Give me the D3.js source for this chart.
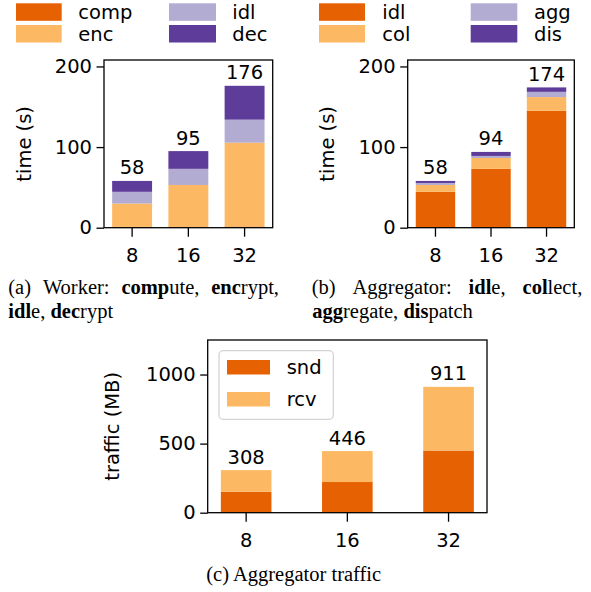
<!DOCTYPE html>
<html>
<head>
<meta charset="utf-8">
<script src="https://cdn.jsdelivr.net/npm/d3@7"></script>
<style>
  body { margin: 0; background: #fff; }
  svg { display: block; }
</style>
</head>
<body>
<div id="chart"></div>
<script>
// Données
const nodes = ["8", "16", "32"];

// (a) worker
const workerKeys = ["comp", "enc", "idl", "dec"];
const workerComp = [1, 0.5, 1.5];
const workerEnc = [29, 52.5, 104];
const workerIdl = [14.5, 20, 28.5];
const workerDec = [13.5, 22, 42];
const workerTotals = [58, 95, 176];

// (b) aggregator
const aggKeys = ["idl", "col", "agg", "dis"];
const aggIdl = [44.5, 73, 145];
const aggCol = [8.5, 13.5, 17];
const aggAgg = [2.5, 2.5, 6.5];
const aggDis = [2.5, 5, 5.5];
const aggTotals = [58, 94, 174];

// (c) traffic
const trafficKeys = ["snd", "rcv"];
const trafficSnd = [152, 222, 450];
const trafficRcv = [156, 224, 461];
const trafficTotals = [308, 446, 911];

const timeTicks = [0, 100, 200];
const trafficTicks = [0, 500, 1000];

const colors = ["#e66101", "#fdb863", "#b2abd2", "#5e3c99"];
const FONT = "DejaVu Sans";
const FS = 19.5;

const svg = d3
  .select("#chart")
  .append("svg")
  .attr("width", 591)
  .attr("height", 592);

function rows(series) {
  return nodes.map(function (n, i) {
    let r = { node: n };
    series.forEach(function (s) {
      r[s.key] = s.values[i];
    });
    return r;
  });
}

function panel(cfg) {
  let x = d3
    .scaleBand()
    .domain(nodes)
    .range([cfg.x0, cfg.x1])
    .paddingInner(cfg.pin)
    .paddingOuter(cfg.pout);
  let y = d3.scaleLinear().domain([0, cfg.ymax]).range([cfg.yBot, cfg.yTop]);

  let data = rows(cfg.series);
  let stack = d3.stack().keys(cfg.series.map((s) => s.key))(data);

  let g = svg.append("g");

  g.selectAll("g.layer")
    .data(stack)
    .enter()
    .append("g")
    .attr("fill", (d, i) => colors[i])
    .selectAll("rect")
    .data((d) => d)
    .enter()
    .append("rect")
    .attr("x", (d) => x(d.data.node))
    .attr("width", x.bandwidth())
    .attr("y", (d) => y(d[1]))
    .attr("height", (d) => y(d[0]) - y(d[1]));

  // totals above bars
  g.selectAll("text.total")
    .data(cfg.totals)
    .enter()
    .append("text")
    .attr("x", (d, i) => x(nodes[i]) + x.bandwidth() / 2)
    .attr("y", (d) => y(d) - 6.5)
    .attr("text-anchor", "middle")
    .style("font-family", FONT)
    .style("font-size", FS + "px")
    .text((d) => d);

  // axes
  let ya = g
    .append("g")
    .attr("transform", "translate(" + cfg.x0 + ",0)")
    .call(
      d3.axisLeft(y).tickValues(cfg.ticks).tickFormat(d3.format("d")).tickSize(7.5).tickPadding(4.5)
    );
  let xa = g
    .append("g")
    .attr("transform", "translate(0," + cfg.yBot + ")")
    .call(d3.axisBottom(x).tickSize(9).tickPadding(11));
  [ya, xa].forEach(function (a) {
    a.select(".domain").remove();
    a.attr("font-family", null).attr("font-size", null);
    a.selectAll("line").attr("stroke-width", 1.3);
    a.selectAll("text").style("font-family", FONT).style("font-size", FS + "px").attr("fill", "#000");
  });

  // frame
  g.append("rect")
    .attr("x", cfg.x0)
    .attr("y", cfg.yTop)
    .attr("width", cfg.x1 - cfg.x0)
    .attr("height", cfg.yBot - cfg.yTop)
    .attr("fill", "none")
    .attr("stroke", "#000")
    .attr("stroke-width", 1.3);

  // y label
  g.append("text")
    .attr("transform", "translate(" + cfg.labelX + "," + (cfg.yTop + cfg.yBot) / 2 + ") rotate(-90)")
    .attr("text-anchor", "middle")
    .style("font-family", FONT)
    .style("font-size", FS + "px")
    .text(cfg.ylabel);

  return g;
}

function legendGrid(items, cols, rowsY, h) {
  items.forEach(function (it, i) {
    let c = cols[Math.floor(i / 2)];
    let ry = rowsY[i % 2];
    svg.append("rect")
      .attr("x", c.px)
      .attr("y", ry)
      .attr("width", c.pw)
      .attr("height", h)
      .attr("fill", colors[i]);
    svg.append("text")
      .attr("x", c.tx)
      .attr("y", ry + h / 2 + 7)
      .style("font-family", FONT)
      .style("font-size", FS + "px")
      .text(it);
  });
}

// (a)
panel({
  x0: 104, x1: 272.7, yTop: 60, yBot: 227.7, ymax: 208, pin: 0.29, pout: 0.145,
  ticks: timeTicks, totals: workerTotals, ylabel: "time (s)", labelX: 31,
  series: [
    { key: "comp", values: workerComp },
    { key: "enc", values: workerEnc },
    { key: "idl", values: workerIdl },
    { key: "dec", values: workerDec },
  ],
});
legendGrid(workerKeys, [{ px: 16, pw: 45.7, tx: 78.3 }, { px: 169, pw: 47, tx: 232.3 }], [3.3, 25], 17.5);

// (b)
panel({
  x0: 407.7, x1: 574.3, yTop: 60, yBot: 227.7, ymax: 208, pin: 0.29, pout: 0.145,
  ticks: timeTicks, totals: aggTotals, ylabel: "time (s)", labelX: 334.4,
  series: [
    { key: "idl", values: aggIdl },
    { key: "col", values: aggCol },
    { key: "agg", values: aggAgg },
    { key: "dis", values: aggDis },
  ],
});
legendGrid(aggKeys, [{ px: 319, pw: 46, tx: 382.3 }, { px: 470.7, pw: 46.6, tx: 534 }], [3.3, 25], 17.5);

// (c)
panel({
  x0: 207.7, x1: 487, yTop: 340, yBot: 512.7, ymax: 1250, pin: 0.5, pout: 0.13,
  ticks: trafficTicks, totals: trafficTotals, ylabel: "traffic (MB)", labelX: 119.3,
  series: [
    { key: "snd", values: trafficSnd },
    { key: "rcv", values: trafficRcv },
  ],
});
svg.append("rect")
  .attr("x", 219).attr("y", 350.7)
  .attr("width", 114.3).attr("height", 68.6)
  .attr("rx", 4)
  .attr("fill", "#fff").attr("fill-opacity", 0.8)
  .attr("stroke", "#d4d4d4").attr("stroke-width", 1.3);
trafficKeys.forEach(function (k, i) {
  let ry = 360 + i * 32;
  svg.append("rect").attr("x", 227).attr("y", ry).attr("width", 43).attr("height", 14.5).attr("fill", colors[i]);
  svg.append("text")
    .attr("x", 286.7).attr("y", ry + 14.3)
    .style("font-family", FONT).style("font-size", FS + "px")
    .text(k);
});

// captions
const CAP_FONT = "Liberation Serif";
const CAP_FS = 20.5;

function word(parts, x, y) {
  let t = svg.append("text")
    .attr("x", x).attr("y", y)
    .style("font-family", CAP_FONT)
    .style("font-size", CAP_FS + "px");
  parts.forEach(function (p) {
    t.append("tspan").attr("font-weight", p[1] ? "bold" : "normal").text(p[0]);
  });
  return t;
}

function justified(words, left, right, y) {
  let els = words.map((w) => word(w, left, y));
  let widths = els.map((e) => e.node().getComputedTextLength());
  let gap = (right - left - d3.sum(widths)) / (words.length - 1);
  let cx = left;
  els.forEach(function (e, i) {
    e.attr("x", cx);
    cx += widths[i] + gap;
  });
}

function plain(words, left, y) {
  let cx = left;
  let sp = CAP_FS * 0.25;
  words.forEach(function (w) {
    let e = word(w, cx, y);
    cx += e.node().getComputedTextLength() + sp;
  });
}

justified([[["(a)", 0]], [["Worker:", 0]], [["comp", 1], ["ute,", 0]], [["enc", 1], ["rypt,", 0]]], 8.3, 279, 294);
plain([[["idl", 1], ["e,", 0]], [["dec", 1], ["rypt", 0]]], 8.3, 318);
justified([[["(b)", 0]], [["Aggregator:", 0]], [["idl", 1], ["e,", 0]], [["col", 1], ["lect,", 0]]], 311.7, 582.3, 294);
plain([[["agg", 1], ["regate,", 0]], [["dis", 1], ["patch", 0]]], 312.3, 318);

svg.append("text")
  .attr("x", 293.7).attr("y", 580.5)
  .attr("text-anchor", "middle")
  .style("font-family", CAP_FONT)
  .style("font-size", CAP_FS + "px")
  .text("(c) Aggregator traffic");
</script>
</body>
</html>
